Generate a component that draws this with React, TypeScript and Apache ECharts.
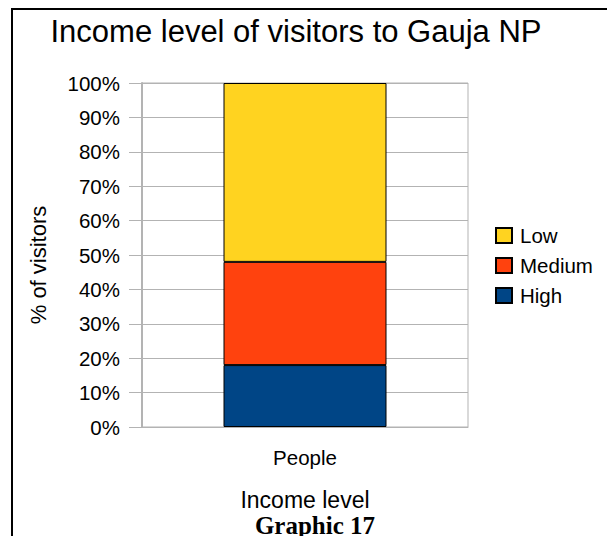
import React, { useEffect, useRef } from "react";
import * as echarts from "echarts";

const categories = ["People"];
const seriesNames = ["High", "Medium", "Low"];
const highValues = [18];
const mediumValues = [30];
const lowValues = [52];
const seriesColors = ["#004586", "#ff420e", "#ffd320"];
const legendOrder = ["Low", "Medium", "High"];
const yTicks = [0, 10, 20, 30, 40, 50, 60, 70, 80, 90, 100];

export default function App() {
  const ref = useRef<HTMLDivElement>(null);
  useEffect(() => {
    if (!ref.current) return;
    const chart = echarts.init(ref.current, null, { renderer: "svg" });
    const values = [highValues, mediumValues, lowValues];
    const font = "'Liberation Sans', Arial, sans-serif";
    chart.setOption({
      animation: false,
      backgroundColor: "#ffffff",
      title: {
        text: "Income level of visitors to Gauja NP",
        left: 296,
        top: 16,
        padding: 0,
        textAlign: "center",
        textStyle: { fontFamily: font, fontSize: 31, fontWeight: "normal", color: "#000" },
      },
      legend: {
        data: legendOrder,
        orient: "vertical",
        left: 495,
        top: 225,
        padding: 0,
        itemWidth: 16,
        itemHeight: 15,
        itemGap: 9,
        icon: "rect",
        textStyle: { fontFamily: font, fontSize: 20.5, color: "#000", lineHeight: 21, padding: [0, 0, 0, 3] },
      },
      grid: {
        left: 142,
        right: 139,
        top: 83,
        bottom: 109,
        show: true,
        borderColor: "#b3b3b3",
        borderWidth: 1,
      },
      xAxis: {
        type: "category",
        data: categories,
        name: "Income level",
        nameLocation: "middle",
        nameGap: 62,
        nameTextStyle: { fontFamily: font, fontSize: 23, color: "#000", lineHeight: 22 },
        axisLine: { lineStyle: { color: "#b3b3b3", width: 1 } },
        axisTick: { alignWithLabel: true, length: 9, lineStyle: { color: "#b3b3b3" } },
        axisLabel: { fontFamily: font, fontSize: 20.5, color: "#000", margin: 20 },
        splitLine: { show: false },
      },
      yAxis: {
        type: "value",
        min: yTicks[0],
        max: yTicks[yTicks.length - 1],
        interval: 10,
        name: "% of visitors",
        nameLocation: "middle",
        nameGap: 93,
        nameRotate: 90,
        nameTextStyle: { fontFamily: font, fontSize: 22, color: "#000", padding: [0, 20, 0, 0] },
        axisLine: { show: true, lineStyle: { color: "#b3b3b3", width: 2 } },
        axisTick: { show: true, length: 13, lineStyle: { color: "#b3b3b3" } },
        axisLabel: { fontFamily: font, fontSize: 20.5, color: "#000", margin: 22, formatter: "{value}%" },
        splitLine: { lineStyle: { color: "#b3b3b3", width: 1 } },
      },
      series: seriesNames.map((name, i) => ({
        name,
        type: "bar",
        stack: "total",
        data: values[i],
        barWidth: "50%",
        itemStyle: { color: seriesColors[i], borderColor: "#000", borderWidth: 1 },
      })),
      graphic: [
        {
          type: "rect",
          shape: { x: 12, y: 9, width: 800, height: 800 },
          style: { fill: "none", stroke: "#000", lineWidth: 2 },
          silent: true,
        },
        {
          type: "text",
          x: 315,
          y: 536,
          style: {
            text: "Graphic 17",
            font: "bold 25px 'Liberation Serif', 'Times New Roman', serif",
            lineHeight: 22,
            fill: "#000",
            textAlign: "center",
            textVerticalAlign: "bottom",
          },
        },
      ],
    });
    return () => chart.dispose();
  }, []);
  return <div ref={ref} style={{ position: "fixed", left: 0, top: 0, width: 607, height: 536 }} />;
}
